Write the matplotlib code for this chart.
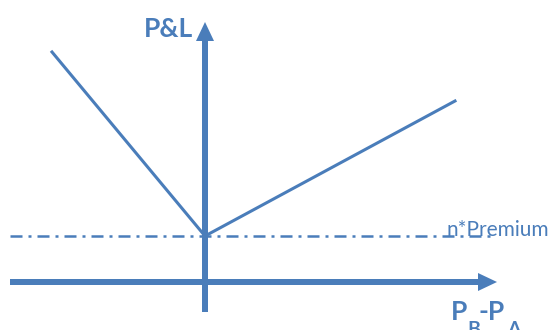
import matplotlib
matplotlib.use('Agg')
import matplotlib.pyplot as plt

BLUE = '#4A7DBA'
plt.rcParams['font.family'] = ['Lato', 'DejaVu Sans']

# payoff of the position (x = P_B - P_A, y = P&L), one data unit = one pixel
payoff_x = [-153, 0, 250]
payoff_y = [230, 46, 181]
premium = 46
x_range = (-195, 292)
y_range = (-30, 260)
dash_end = 285

fig = plt.figure(figsize=(5.6, 3.3), dpi=100)
ax = fig.add_axes([0, 0, 1, 1])
ax.set_xlim(-205, 355)
ax.set_ylim(-48, 282)
ax.axis('off')

# premium level
ax.plot([x_range[0], dash_end], [premium, premium], color=BLUE, lw=1.8,
        dashes=(4.8, 2.4, 1.2, 2.4))
# payoff line
ax.plot(payoff_x, payoff_y, color=BLUE, lw=2.2, solid_joinstyle='miter')

# axes with arrows
head = dict(width=6, head_width=18, head_length=19, length_includes_head=True,
            lw=0, color=BLUE)
ax.arrow(x_range[0], 0, x_range[1] - x_range[0], 0, **head)
ax.arrow(0, y_range[0], 0, y_range[1] - y_range[0], **head)

ax.text(-12, 245, 'P&L', color=BLUE, fontsize=19, fontweight='bold',
        ha='right', va='baseline')
# P_B - P_A with deep subscripts (cut by the lower edge, as in the original)
xl = dict(color=BLUE, fontweight='bold', va='baseline', ha='left')
ax.text(246, -38, 'P', fontsize=19, **xl)
ax.text(262, -53, 'B', fontsize=14, **xl)
ax.text(274, -38, '-P', fontsize=19, **xl)
ax.text(302, -53, 'A', fontsize=14, **xl)
ax.text(242, 46, 'n*Premium', color=BLUE, fontsize=15, ha='left',
        va='baseline')

fig.savefig('out.png', dpi=100)
